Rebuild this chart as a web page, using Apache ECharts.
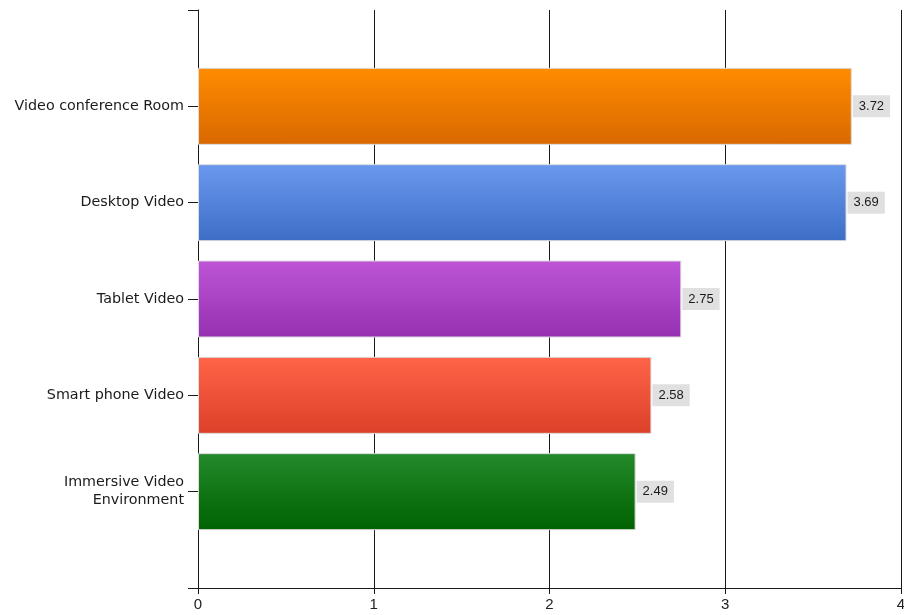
<!DOCTYPE html>
<html>
<head>
<meta charset="utf-8">
<script src="https://cdn.jsdelivr.net/npm/echarts@6/dist/echarts.min.js"></script>
<style>
  html, body { margin: 0; padding: 0; background: #fff; overflow: hidden; }
  #main { width: 904px; height: 615px; }
</style>
</head>
<body>
<div id="main"></div>
<script>
var myChart = echarts.init(document.getElementById('main'));

// empty slots at top and bottom keep the gap the original chart has
var categories = ['', 'Video conference Room', 'Desktop Video', 'Tablet Video', 'Smart phone Video', 'Immersive Video\nEnvironment', ''];
var values = [null, 3.72, 3.69, 2.75, 2.58, 2.49, null];
var xTicks = [0, 1, 2, 3, 4];

var barColors = [
    null,
    ['#ff8c00', '#d96800'],
    ['#6a98ee', '#3d6ec6'],
    ['#bd55d6', '#9530b0'],
    ['#ff6448', '#dc4028'],
    ['#23892a', '#006200']
];

var data = values.map(function (v, i) {
    if (v == null) return null;
    return {
        value: v,
        itemStyle: {
            color: new echarts.graphic.LinearGradient(0, 0, 0, 1, [
                { offset: 0, color: barColors[i][0] },
                { offset: 1, color: barColors[i][1] }
            ])
        }
    };
});

var font = 'DejaVu Sans, Verdana, sans-serif';
var font2 = 'Liberation Sans, Arial, sans-serif';

myChart.setOption({
    animation: false,
    grid: { left: 198, right: 3, top: 10, bottom: 27, outerBoundsMode: 'none' },
    xAxis: {
        type: 'value',
        min: xTicks[0],
        max: xTicks[xTicks.length - 1],
        interval: 1,
        axisLine: { show: true, lineStyle: { color: '#1a1a1a', width: 1 } },
        axisTick: { show: true, length: 6, lineStyle: { color: '#1a1a1a' } },
        axisLabel: { color: '#222', fontSize: 15, fontFamily: font2, margin: 9, showMaxLabel: true },
        splitLine: { show: true, lineStyle: { color: '#1a1a1a', width: 1 } }
    },
    yAxis: {
        type: 'category',
        data: categories,
        inverse: true,
        boundaryGap: false,
        axisLine: { show: true, lineStyle: { color: '#1a1a1a', width: 1 } },
        axisTick: { show: true, length: 10, lineStyle: { color: '#1a1a1a' } },
        axisLabel: { color: '#1a1a1a', fontSize: 14.3, fontFamily: font, margin: 14, align: 'right', lineHeight: 18 },
        splitLine: { show: false }
    },
    series: [{
        type: 'bar',
        data: data,
        barWidth: 77,
        itemStyle: { borderColor: '#dcdcdc', borderWidth: 1 },
        label: {
            show: true,
            position: 'right',
            distance: 1,
            color: '#1a1a1a',
            fontSize: 13,
            fontFamily: font2,
            backgroundColor: '#e0e0e0',
            padding: [5, 6, 4, 6],
            formatter: function (p) { return p.value.toFixed(2); }
        }
    }]
});
</script>
</body>
</html>
